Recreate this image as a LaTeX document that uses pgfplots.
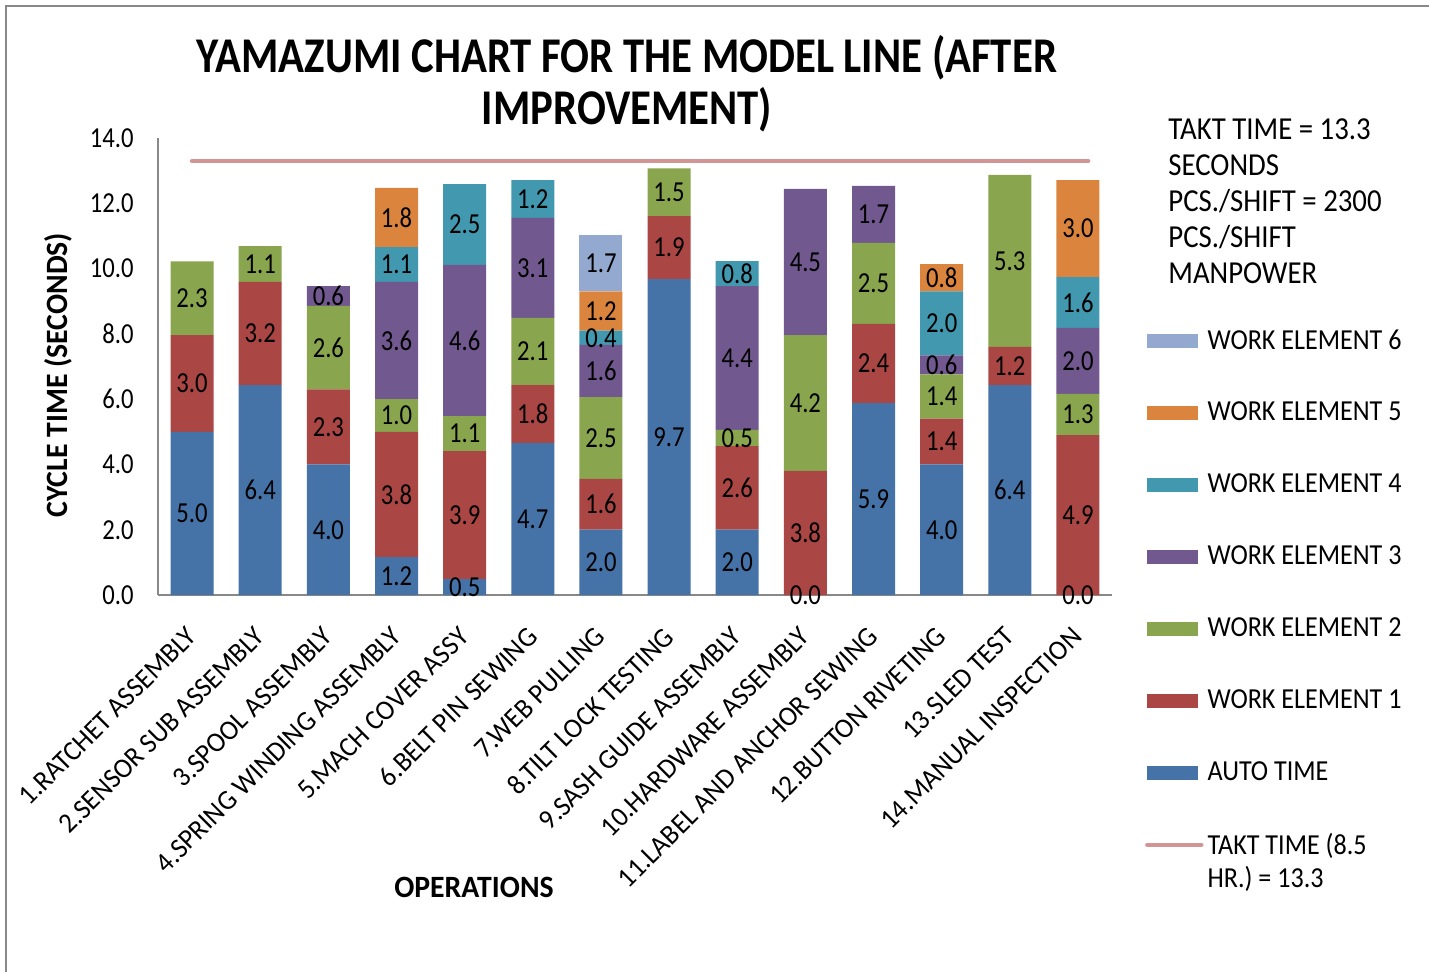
\documentclass[border=0pt]{standalone}
\usepackage{fontspec}
\setmainfont{Carlito}[FakeStretch=0.9]
\newfontfamily\narrowfont{Carlito}[FakeStretch=0.85]
\newfontfamily\titlefont{Carlito}[FakeStretch=0.855]
\newfontfamily\widefont{Carlito}[FakeStretch=0.96]
\usepackage{pgfplots}
\pgfplotsset{compat=1.18}
\definecolor{autoc}{HTML}{4572A7}
\definecolor{weA}{HTML}{AA4643}
\definecolor{weB}{HTML}{89A54E}
\definecolor{weC}{HTML}{71588F}
\definecolor{weD}{HTML}{4198AF}
\definecolor{weE}{HTML}{DB843D}
\definecolor{weF}{HTML}{93A9CF}
\definecolor{taktc}{HTML}{D39594}
\definecolor{framec}{HTML}{888888}
\begin{document}
\begin{tikzpicture}
\useasboundingbox (0pt,0pt) rectangle (714.5pt,-485.5pt);
\draw[framec, line width=1pt] (2.8pt,-600pt) -- (2.8pt,-3pt) -- (800pt,-3pt);
\begin{axis}[
  at={(79pt,-297.5pt)}, anchor=south west,
  scale only axis, width=477pt, height=228.5pt,
  ybar stacked, bar width=21.5pt,
  xmin=-0.5, xmax=13.5, ymin=0, ymax=14,
  ytick={0,2,...,14},
  xtick={0,...,13},
  xticklabels={1.RATCHET ASSEMBLY,2.SENSOR SUB ASSEMBLY,3.SPOOL ASSEMBLY,4.SPRING WINDING ASSEMBLY,5.MACH COVER ASSY,6.BELT PIN SEWING,7.WEB PULLING,8.TILT LOCK TESTING,9.SASH GUIDE ASSEMBLY,10.HARDWARE ASSEMBLY,11.LABEL AND ANCHOR SEWING,12.BUTTON RIVETING,13.SLED TEST,14.MANUAL INSPECTION},
  axis x line*=bottom, axis y line*=left,
  axis line style={framec, line width=1pt, -},
  major tick length=0pt,
  /pgf/number format/assume math mode=true,
  yticklabel style={/pgf/number format/.cd, fixed, fixed zerofill, precision=1, /tikz/.cd, font=\narrowfont\fontsize{14.5}{16}\selectfont, inner sep=0pt, xshift=-12pt},
  xticklabel style={font=\widefont\fontsize{14}{16}\selectfont, inner sep=0pt, xshift=-3.5pt, yshift=-15pt, rotate=45, anchor=north east},
  title={YAMAZUMI CHART FOR THE MODEL LINE (AFTER\\IMPROVEMENT)},
  title style={at={(axis description cs:0.4916,1.0919)}, anchor=center, align=center, font=\titlefont\bfseries\fontsize{25}{26}\selectfont},
  xlabel={OPERATIONS},
  xlabel style={at={(axis description cs:0.3312,-0.639)}, anchor=center, font=\widefont\bfseries\fontsize{15.5}{18}\selectfont},
  ylabel={CYCLE TIME (SECONDS)},
  ylabel style={at={(axis description cs:-0.1048,0.4814)}, anchor=center, font=\widefont\bfseries\fontsize{15.5}{18}\selectfont},
  legend image code/.code={\fill[#1] (0pt,-3.5pt) rectangle (25.5pt,3.5pt);},
  reverse legend,
  legend cell align=left,
  legend style={at={(axis description cs:1.0343,0.5907)}, anchor=north west, draw=none, fill=none, inner sep=0pt,
    row sep={36pt,between origins}, font=\fontsize{14.5}{16.5}\selectfont},
  clip=false,
]
\addplot[stack plots=false, sharp plot, mark=none, color=taktc, line width=2.2pt, line cap=round,
  legend image code/.code={\draw[taktc, line width=2.2pt, line cap=round] (0pt,0pt) -- (27pt,0pt);}]
  coordinates {(0,13.3) (13.15,13.3)};
\addlegendentry{\raisebox{0pt}[\height][0pt]{\begin{tabular}[t]{@{}l@{}}TAKT TIME (8.5\\HR.) = 13.3\end{tabular}}}
\addplot[fill=autoc, draw=none] coordinates {(0,5.0)(1,6.43)(2,4.0)(3,1.16)(4,0.49)(5,4.66)(6,2.0)(7,9.68)(8,2.0)(9,0)(10,5.88)(11,4.0)(12,6.43)(13,0)};
\addlegendentry{AUTO TIME}
\addplot[fill=weA, draw=none] coordinates {(0,2.96)(1,3.16)(2,2.3)(3,3.84)(4,3.92)(5,1.77)(6,1.56)(7,1.93)(8,2.56)(9,3.8)(10,2.43)(11,1.4)(12,1.17)(13,4.9)};
\addlegendentry{WORK ELEMENT 1}
\addplot[fill=weB, draw=none] coordinates {(0,2.26)(1,1.1)(2,2.56)(3,1.0)(4,1.07)(5,2.06)(6,2.5)(7,1.46)(8,0.5)(9,4.16)(10,2.48)(11,1.36)(12,5.27)(13,1.26)};
\addlegendentry{WORK ELEMENT 2}
\addplot[fill=weC, draw=none] coordinates {(0,0)(1,0)(2,0.6)(3,3.59)(4,4.63)(5,3.06)(6,1.6)(7,0)(8,4.4)(9,4.48)(10,1.74)(11,0.58)(12,0)(13,2.02)};
\addlegendentry{WORK ELEMENT 3}
\addplot[fill=weD, draw=none] coordinates {(0,0)(1,0)(2,0)(3,1.07)(4,2.48)(5,1.16)(6,0.44)(7,0)(8,0.77)(9,0)(10,0)(11,1.96)(12,0)(13,1.56)};
\addlegendentry{WORK ELEMENT 4}
\addplot[fill=weE, draw=none] coordinates {(0,0)(1,0)(2,0)(3,1.81)(4,0)(5,0)(6,1.2)(7,0)(8,0)(9,0)(10,0)(11,0.84)(12,0)(13,2.97)};
\addlegendentry{WORK ELEMENT 5}
\addplot[fill=weF, draw=none] coordinates {(0,0)(1,0)(2,0)(3,0)(4,0)(5,0)(6,1.74)(7,0)(8,0)(9,0)(10,0)(11,0)(12,0)(13,0)};
\addlegendentry{WORK ELEMENT 6}
\end{axis}
\begin{axis}[
  at={(79pt,-297.5pt)}, anchor=south west,
  scale only axis, width=477pt, height=228.5pt,
  xmin=-0.5, xmax=13.5, ymin=0, ymax=14,
  hide axis, clip=false,
]
\addplot[draw=none, mark=none, nodes near coords, point meta=explicit symbolic,
  every node near coord/.append style={anchor=center, inner sep=0pt, text=black, font=\narrowfont\fontsize{14.5}{16}\selectfont}]
  coordinates {
  (0,2.5)[5.0] (0,6.48)[3.0] (0,9.09)[2.3]
  (1,3.215)[6.4] (1,8.01)[3.2] (1,10.14)[1.1]
  (2,2.0)[4.0] (2,5.15)[2.3] (2,7.58)[2.6] (2,9.16)[0.6]
  (3,0.58)[1.2] (3,3.08)[3.8] (3,5.5)[1.0] (3,7.795)[3.6] (3,10.125)[1.1] (3,11.565)[1.8]
  (4,0.245)[0.5] (4,2.45)[3.9] (4,4.945)[1.1] (4,7.795)[4.6] (4,11.35)[2.5]
  (5,2.33)[4.7] (5,5.545)[1.8] (5,7.46)[2.1] (5,10.02)[3.1] (5,12.13)[1.2]
  (6,1.0)[2.0] (6,2.78)[1.6] (6,4.81)[2.5] (6,6.86)[1.6] (6,7.88)[0.4] (6,8.7)[1.2] (6,10.17)[1.7]
  (7,4.84)[9.7] (7,10.645)[1.9] (7,12.34)[1.5]
  (8,1.0)[2.0] (8,3.28)[2.6] (8,4.81)[0.5] (8,7.26)[4.4] (8,9.845)[0.8]
  (9,0)[0.0] (9,1.9)[3.8] (9,5.88)[4.2] (9,10.2)[4.5]
  (10,2.94)[5.9] (10,7.095)[2.4] (10,9.55)[2.5] (10,11.66)[1.7]
  (11,2.0)[4.0] (11,4.7)[1.4] (11,6.08)[1.4] (11,7.05)[0.6] (11,8.32)[2.0] (11,9.72)[0.8]
  (12,3.215)[6.4] (12,7.015)[1.2] (12,10.235)[5.3]
  (13,0)[0.0] (13,2.45)[4.9] (13,5.53)[1.3] (13,7.17)[2.0] (13,8.96)[1.6] (13,11.225)[3.0]
  };
\end{axis}
\node[anchor=north west, align=left, inner sep=0pt, font=\fontsize{16}{18}\selectfont] at (584pt,-59pt)
  {TAKT TIME = 13.3\\SECONDS\\PCS./SHIFT = 2300\\PCS./SHIFT\\MANPOWER};
\end{tikzpicture}
\end{document}
